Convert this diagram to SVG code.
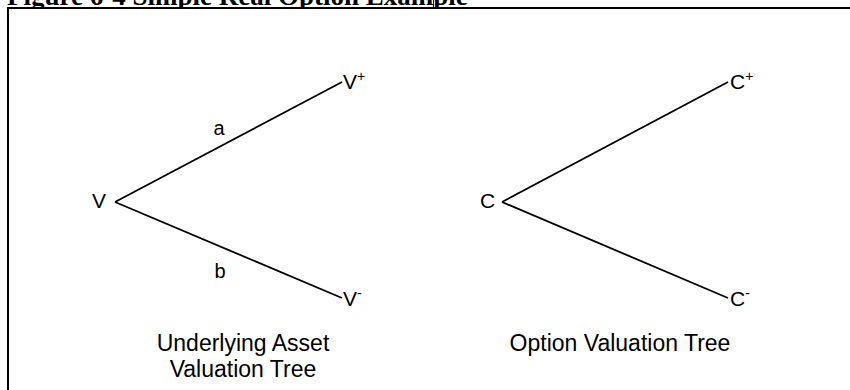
<svg xmlns="http://www.w3.org/2000/svg" width="850" height="390" viewBox="0 0 850 390">
  <style>
    .title { font-family: "Liberation Serif", "Times New Roman", serif; font-weight: bold; font-size: 27px; fill: #000; }
    .node { font-family: "Liberation Sans", Arial, sans-serif; font-size: 21px; fill: #000; }
    .sup { font-size: 14px; }
    .edge-label { font-family: "Liberation Sans", Arial, sans-serif; font-size: 20px; fill: #000; text-anchor: middle; }
    .caption { font-family: "Liberation Sans", Arial, sans-serif; font-size: 23px; fill: #000; text-anchor: middle; }
    .branch { stroke: #000; stroke-width: 1.8; fill: none; }
    .frame { stroke: #000; stroke-width: 2; fill: #fff; }
    .rule { stroke: #000; stroke-width: 1; }
  </style>
  <rect width="850" height="390" fill="#fff"/>

  <!-- figure caption, clipped at the top edge -->
  <text class="title" x="7" y="5">Figure 6-4 Simple Real Option Example</text>
  <g id="frame">
    <rect class="frame" x="8" y="8" width="900" height="420"/>
    <line class="rule" x1="181.5" y1="0" x2="181.5" y2="8"/>
    <line class="rule" x1="302.5" y1="0" x2="302.5" y2="8"/>
    <line class="rule" x1="433.5" y1="0" x2="433.5" y2="8"/>
  </g>

  <!-- branches of both binomial trees -->
  <g id="connectors">
    <line class="branch" x1="115" y1="202" x2="342" y2="82"/>
    <line class="branch" x1="115" y1="202" x2="342" y2="298"/>
    <line class="branch" x1="502" y1="202" x2="728" y2="82"/>
    <line class="branch" x1="502" y1="202" x2="728" y2="298"/>
  </g>

  <!-- underlying asset tree -->
  <g id="node-V"><text class="node" x="92" y="208">V</text></g>
  <g id="node-V-up"><text class="node" x="343" y="89">V<tspan class="sup" dy="-8">+</tspan></text></g>
  <g id="node-V-down"><text class="node" x="343" y="306">V<tspan class="sup" dy="-8">-</tspan></text></g>
  <g id="label-a"><text class="edge-label" x="219" y="135">a</text></g>
  <g id="label-b"><text class="edge-label" x="220" y="278">b</text></g>

  <!-- option tree -->
  <g id="node-C"><text class="node" x="480" y="208">C</text></g>
  <g id="node-C-up"><text class="node" x="730" y="89">C<tspan class="sup" dy="-8">+</tspan></text></g>
  <g id="node-C-down"><text class="node" x="730" y="306">C<tspan class="sup" dy="-8">-</tspan></text></g>

  <!-- tree captions -->
  <g id="caption-asset">
    <text class="caption" x="243" y="351">Underlying Asset</text>
    <text class="caption" x="243" y="377">Valuation Tree</text>
  </g>
  <g id="caption-option">
    <text class="caption" x="620" y="351">Option Valuation Tree</text>
  </g>
</svg>
